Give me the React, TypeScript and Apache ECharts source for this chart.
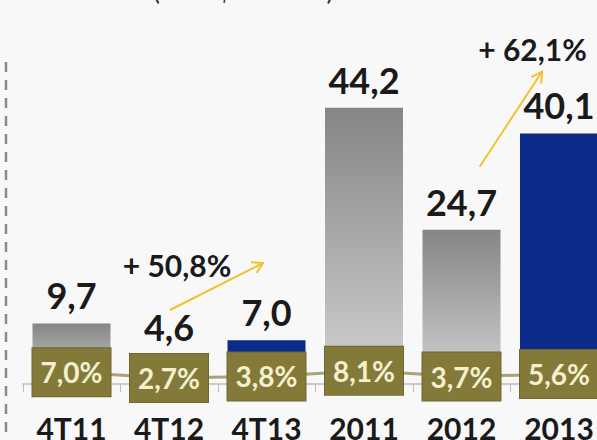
import React, { useEffect, useRef } from "react";
import * as echarts from "echarts";

const categories = ["4T11", "4T12", "4T13", "2011", "2012", "2013"];
const revenue = [9.7, 4.6, 7.0, 44.2, 24.7, 40.1];
const highlighted = [false, false, true, false, false, true];
const marginPct = [7.0, 2.7, 3.8, 8.1, 3.7, 5.6];
const growthLabels = ["+ 50,8%", "+ 62,1%"];
const titleText = "(em R$ milhões)";

const fmt = (v: number) => v.toFixed(1).replace(".", ",");

export default function App() {
  const ref = useRef<HTMLDivElement>(null);
  useEffect(() => {
    if (!ref.current) return;
    const chart = echarts.init(ref.current, null, { renderer: "svg" });
    const gray = new echarts.graphic.LinearGradient(0, 0, 0, 1, [
      { offset: 0, color: "#858585" },
      { offset: 1, color: "#d2d2d2" },
    ]);
    const font = "Lato";
    chart.setOption({
      animation: false,
      backgroundColor: "#f8f8f8",
      grid: {
        left: 22.75,
        width: 585,
        top: 71.5,
        height: 312.5,
        containLabel: false,
        outerBoundsMode: "none",
      },
      xAxis: {
        type: "category",
        data: categories,
        axisLine: { show: true, lineStyle: { color: "#bdbdbd", width: 1.5 } },
        axisTick: { show: true, length: 8, lineStyle: { color: "#bdbdbd" } },
        axisLabel: {
          color: "#1a1a1a",
          fontFamily: font,
          fontWeight: "bold",
          fontSize: 30,
          margin: 29,
        },
      },
      yAxis: [
        { type: "value", min: 0, max: 50, show: false, splitLine: { show: false } },
        { type: "value", min: -2, max: 238, show: false, splitLine: { show: false } },
      ],
      series: [
        {
          type: "bar",
          barWidth: 78,
          data: revenue.map((v, i) => ({
            value: v,
            itemStyle: { color: highlighted[i] ? "#0b2a8a" : gray },
          })),
          label: {
            show: true,
            position: "top",
            distance: 10,
            formatter: (p: any) => fmt(p.value),
            color: "#1a1a1a",
            fontFamily: font,
            fontWeight: "bold",
            fontSize: 36,
          },
          z: 2,
        },
        {
          type: "line",
          yAxisIndex: 1,
          data: marginPct,
          symbol: "circle",
          symbolSize: 2,
          showSymbol: true,
          itemStyle: { color: "#aaa27a" },
          lineStyle: { color: "#aaa27a", width: 3 },
          label: {
            show: true,
            position: "inside",
            formatter: (p: any) => fmt(p.value) + "%",
            width: 78,
            height: 48,
            lineHeight: 48,
            align: "center",
            verticalAlign: "middle",
            backgroundColor: "#837a3a",
            borderColor: "#6f672f",
            borderWidth: 1,
            color: "#f4f0cf",
            fontFamily: font,
            fontWeight: "bold",
            fontSize: 28,
          },
          z: 5,
        },
      ],
      graphic: [
        {
          type: "text",
          left: 263 - 110,
          top: -23,
          style: {
            text: titleText,
            fill: "#333",
            fontFamily: font,
            fontSize: 26,
          },
        },
        {
          type: "line",
          shape: { x1: 6, y1: 62, x2: 6, y2: 440 },
          style: { stroke: "#8a8a8a", lineWidth: 2.5, lineDash: [10, 8] },
        },
        {
          type: "line",
          shape: { x1: 170, y1: 310, x2: 263, y2: 263 },
          style: { stroke: "#f2c12e", lineWidth: 2 },
        },
        {
          type: "polyline",
          shape: { points: [[251, 262.3], [263, 263], [256.4, 273]] },
          style: { stroke: "#f2c12e", lineWidth: 2, fill: null },
        },
        {
          type: "line",
          shape: { x1: 479.7, y1: 166.7, x2: 542, y2: 71.7 },
          style: { stroke: "#f2c12e", lineWidth: 2 },
        },
        {
          type: "polyline",
          shape: { points: [[531.3, 77.1], [542, 71.7], [541.3, 83.7]] },
          style: { stroke: "#f2c12e", lineWidth: 2, fill: null },
        },
        {
          type: "text",
          x: 177,
          y: 265,
          style: {
            text: growthLabels[0],
            align: "center",
            verticalAlign: "middle",
            fill: "#1a1a1a",
            fontFamily: font,
            fontWeight: "bold",
            fontSize: 30,
          },
        },
        {
          type: "text",
          x: 532.5,
          y: 49,
          style: {
            text: growthLabels[1],
            align: "center",
            verticalAlign: "middle",
            fill: "#1a1a1a",
            fontFamily: font,
            fontWeight: "bold",
            fontSize: 30,
          },
        },
      ],
    });
    return () => chart.dispose();
  }, []);
  return (
    <div
      ref={ref}
      style={{ position: "fixed", left: 0, top: 0, width: 597, height: 440 }}
    />
  );
}
